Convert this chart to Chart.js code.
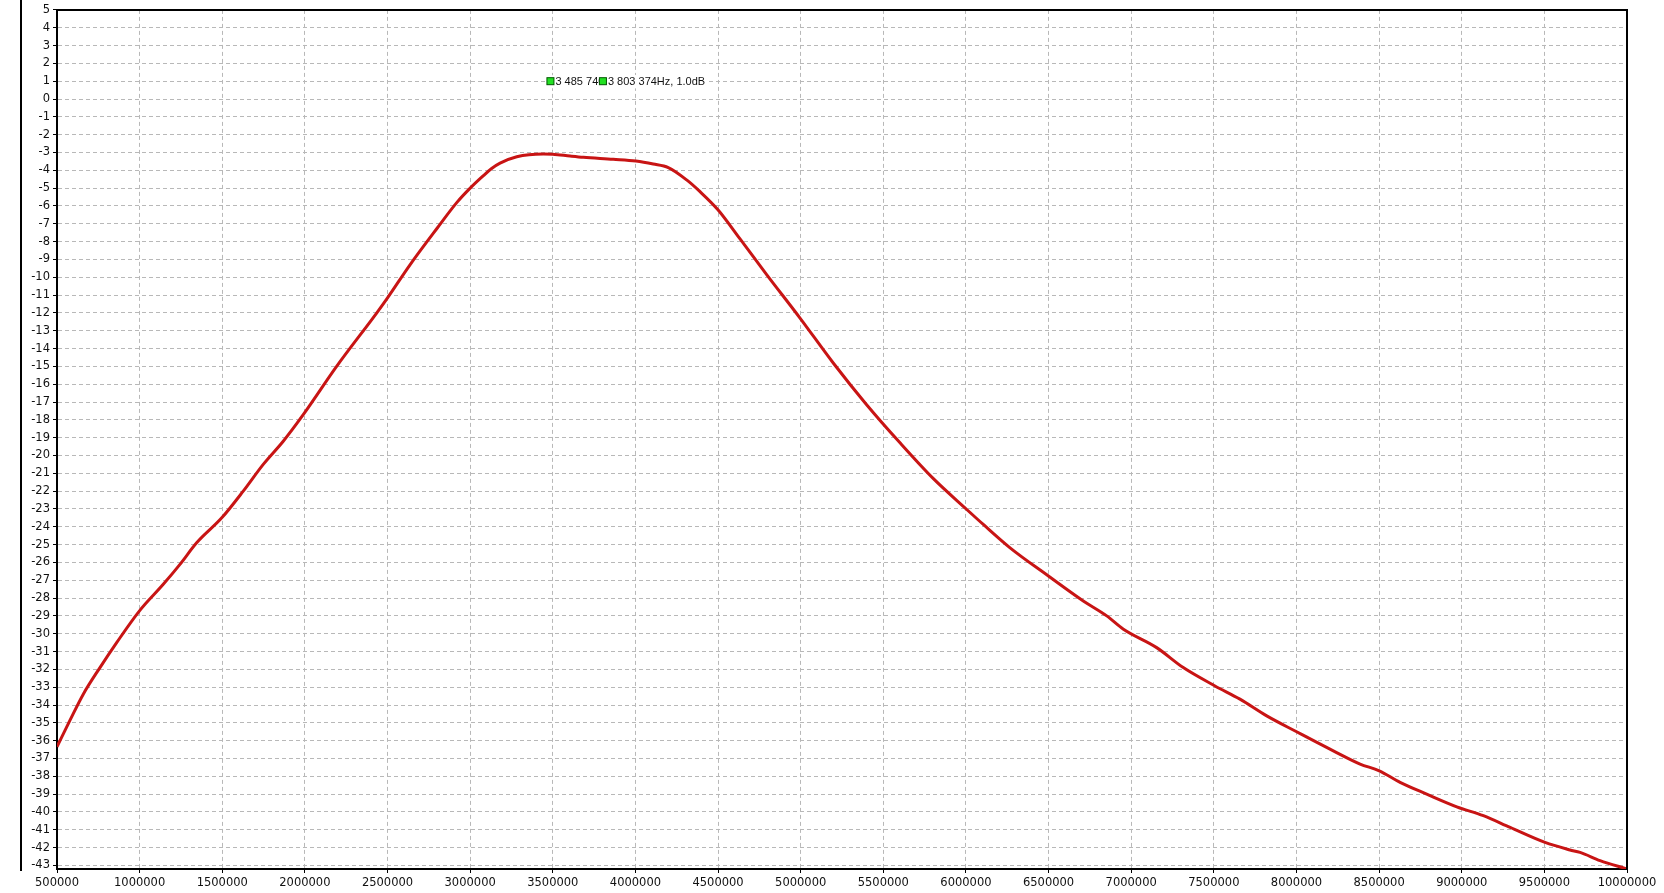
<!DOCTYPE html>
<html><head><meta charset="utf-8">
<script src="https://cdn.jsdelivr.net/npm/chart.js@4/dist/chart.umd.min.js"></script>
<style>html,body{margin:0;padding:0;background:#fff;overflow:hidden}canvas{display:block}</style>
</head><body>
<canvas id="c" width="1664" height="893"></canvas>
<script>
const frequencies = [500000, 579000, 659000, 760000, 861000, 998000, 1143000, 1244000, 1345000, 1497000,
  1627000, 1748000, 1869000, 1990000, 2192000, 2434000, 2499000, 2636000, 2800000, 2920000,
  3000000, 3080000, 3130000, 3181000, 3282000, 3443000, 3500000, 3604000, 3685000, 3866000, 4003000,
  4108000, 4199000, 4310000, 4391000, 4498000, 4633000, 4794000, 4996000, 5197000, 5399000,
  5601000, 5803000, 6005000, 6105000, 6267000, 6499000, 6710000, 6852000, 6953000, 7154000,
  7315000, 7507000, 7658000, 7820000, 8001000, 8223000, 8385000, 8501000, 8627000, 8788000,
  8970000, 9131000, 9293000, 9504000, 9655000, 9716000, 9837000, 10000000];
const gainDb = [-36.34, -34.85, -33.39, -31.9, -30.5, -28.73, -27.23, -26.11, -24.9, -23.5,
  -22.0, -20.5, -19.2, -17.71, -15.0, -12.01, -11.17, -9.3, -7.25, -5.8,
  -5.0, -4.3, -3.9, -3.6, -3.24, -3.09, -3.1, -3.2, -3.27, -3.38, -3.48,
  -3.65, -3.85, -4.54, -5.2, -6.2, -7.85, -9.85, -12.29, -14.81, -17.15,
  -19.29, -21.3, -23.03, -23.87, -25.18, -26.76, -28.16, -29.0, -29.75, -30.78,
  -31.9, -32.93, -33.67, -34.61, -35.5, -36.57, -37.31, -37.69, -38.34, -39.0,
  -39.71, -40.21, -40.87, -41.71, -42.13, -42.27, -42.73, -43.2];
const xTickValues = [500000, 1000000, 1500000, 2000000, 2500000, 3000000, 3500000, 4000000, 4500000, 5000000,
  5500000, 6000000, 6500000, 7000000, 7500000, 8000000, 8500000, 9000000, 9500000, 10000000];
const yTickValues = [5, 4, 3, 2, 1, 0, -1, -2, -3, -4, -5, -6, -7, -8, -9, -10, -11, -12, -13, -14, -15,
  -16, -17, -18, -19, -20, -21, -22, -23, -24, -25, -26, -27, -28, -29, -30, -31, -32, -33, -34, -35,
  -36, -37, -38, -39, -40, -41, -42, -43];
const markerFreqs = [3485740, 3803374];
const markerDb = [1.0, 1.0];
const markerLabels = ['3 485 740Hz, 1.0dB', '3 803 374Hz, 1.0dB'];

const tickFont = {family: '"DejaVu Sans", Verdana, sans-serif', size: 11.5};

const decor = {
  id: 'decor',
  afterDraw(chart) {
    const {ctx, chartArea: a, scales: {x, y}} = chart;
    ctx.save();
    ctx.strokeStyle = '#000';
    ctx.lineWidth = 2;
    ctx.beginPath();
    ctx.moveTo(a.left, a.top); ctx.lineTo(a.right, a.top); ctx.lineTo(a.right, a.bottom);
    ctx.stroke();
    ctx.beginPath();
    ctx.moveTo(21, 0); ctx.lineTo(21, a.bottom + 2);
    ctx.stroke();
    ctx.font = '11px "Liberation Sans", Tahoma, sans-serif';
    ctx.textBaseline = 'middle';
    markerFreqs.forEach((f, i) => {
      const px = x.getPixelForValue(f), py = y.getPixelForValue(markerDb[i]);
      const w = ctx.measureText(markerLabels[i]).width;
      ctx.fillStyle = '#fff';
      ctx.fillRect(px - 4, py - 6, w + 10, 13);
      ctx.fillStyle = '#22e022';
      ctx.fillRect(px - 3.5, py - 3.5, 7, 7);
      ctx.strokeStyle = '#005500'; ctx.lineWidth = 1;
      ctx.strokeRect(px - 3.5, py - 3.5, 7, 7);
      ctx.fillStyle = '#111';
      ctx.fillText(markerLabels[i], px + 5, py + 1);
    });
    ctx.restore();
  }
};

new Chart(document.getElementById('c'), {
  type: 'line',
  data: {
    datasets: [{
      data: frequencies.map((f, i) => ({x: f, y: gainDb[i]})),
      borderColor: '#c81414',
      borderWidth: 3,
      pointRadius: 0,
      cubicInterpolationMode: 'monotone',
      fill: false
    }]
  },
  options: {
    responsive: false,
    animation: false,
    layout: {padding: {left: 0, right: 37, top: 8, bottom: 0}},
    plugins: {legend: {display: false}, tooltip: {enabled: false}},
    scales: {
      x: {
        type: 'linear', min: 500000, max: 10000000,
        afterBuildTicks: s => { s.ticks = xTickValues.map(v => ({value: v})); },
        afterFit: s => { s.height = 24; },
        grid: {color: '#b8b8b8', lineWidth: 1, tickLength: 4, tickColor: '#000', drawTicks: true},
        border: {display: true, color: '#000', width: 2, dash: [4, 3]},
        ticks: {font: tickFont, color: '#111', padding: 3, maxRotation: 0, autoSkip: false,
          callback: v => String(v)}
      },
      y: {
        type: 'linear', min: -43.2, max: 5,
        afterBuildTicks: s => { s.ticks = yTickValues.map(v => ({value: v})); },
        afterFit: s => { s.width = 57; },
        grid: {color: '#b8b8b8', lineWidth: 1, tickLength: 4, tickColor: '#000', drawTicks: true},
        border: {display: true, color: '#000', width: 2, dash: [4, 3]},
        ticks: {font: tickFont, color: '#111', padding: 3, autoSkip: false, callback: v => String(v)}
      }
    }
  },
  plugins: [decor]
});
</script>
</body></html>
